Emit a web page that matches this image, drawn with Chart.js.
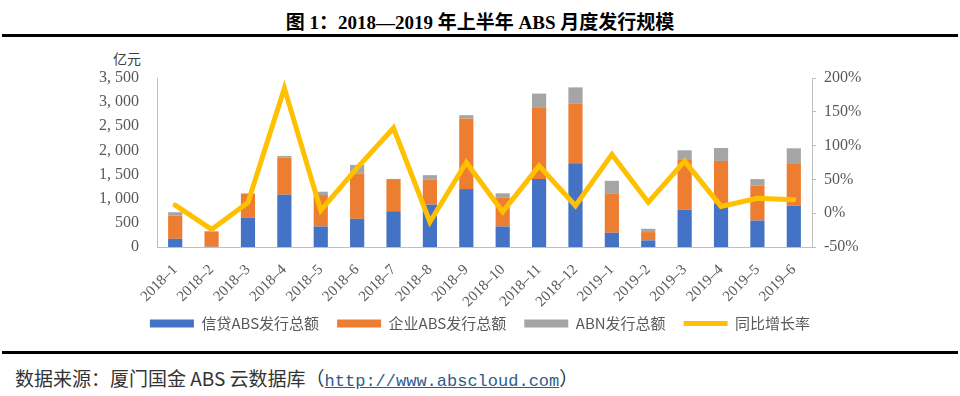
<!DOCTYPE html>
<html>
<head>
<meta charset="utf-8">
<script src="https://cdn.jsdelivr.net/npm/chart.js@4"></script>
<style>
  body { margin: 0; width: 960px; height: 396px; background: #fff; position: relative; overflow: hidden; }
  #title { position: absolute; top: 7px; left: 0; width: 960px; text-align: center;
           font: bold 19px "Liberation Serif", "Noto Sans CJK SC"; color: #000; }
  .rule { position: absolute; left: 2px; width: 956px; height: 3px; background: #000; }
  #unit { position: absolute; left: 113px; top: 48px; font: 14px "Noto Sans CJK SC"; color: #404040; }
  #wrap { position: absolute; left: 0; top: 40px; width: 960px; height: 310px; }
  #source { position: absolute; left: 15px; top: 364px; font: 19px "Noto Sans CJK SC"; color: #333; white-space: pre; }
  #source a { font: 17px "Liberation Mono"; color: #2E5C8A; text-decoration: underline; }
</style>
</head>
<body>
<div id="title">图 1：2018—2019 年上半年 ABS 月度发行规模</div>
<div class="rule" style="top:34px"></div>
<div id="unit">亿元</div>
<div id="wrap"><canvas id="chart"></canvas></div>
<div class="rule" style="top:351px"></div>
<div id="source">数据来源：厦门国金 ABS 云数据库（<a>http://www.abscloud.com</a>）</div>
<script>
const months = ["2018-1", "2018-2", "2018-3", "2018-4", "2018-5", "2018-6", "2018-7", "2018-8", "2018-9",
  "2018-10", "2018-11", "2018-12", "2019-1", "2019-2", "2019-3", "2019-4", "2019-5", "2019-6"];
// 亿元
const creditABS = [170, 5, 603, 1083, 425, 583, 741, 877, 1200, 425, 1406, 1736, 295, 137, 774, 890, 548, 857];
const corpABS = [480, 310, 494, 770, 652, 940, 665, 515, 1462, 604, 1489, 1229, 817, 172, 1030, 893, 721, 879];
const abn = [70, 15, 13, 33, 68, 177, 4, 96, 68, 83, 282, 341, 259, 68, 199, 268, 137, 308];
// 同比增长率
const yoy = [0.12, -0.24, 0.16, 1.85, 0.04, 0.67, 1.26, -0.13, 0.75, 0.02, 0.70, 0.11, 0.87, 0.16, 0.77, 0.10, 0.22, 0.20];

const seriesNames = ["信贷ABS发行总额", "企业ABS发行总额", "ABN发行总额", "同比增长率"];

const tickFont = { family: "Liberation Serif", size: 16 };
const axisColor = "#BFBFBF";
const textColor = "#595959";

// pull the legend up closer to the rotated month labels
const legendShift = {
  id: "legendShift",
  afterLayout(chart) {
    chart.legend.top -= 9;
    chart.legend.bottom -= 9;
  }
};

new Chart(document.getElementById("chart"), {
  data: {
    labels: months,
    datasets: [
      { type: "bar", label: seriesNames[0], data: creditABS, backgroundColor: "#4472C4", yAxisID: "y", order: 1 },
      { type: "bar", label: seriesNames[1], data: corpABS, backgroundColor: "#ED7D31", yAxisID: "y", order: 1 },
      { type: "bar", label: seriesNames[2], data: abn, backgroundColor: "#A5A5A5", yAxisID: "y", order: 1 },
      { type: "line", label: seriesNames[3], data: yoy, borderColor: "#FFC000", backgroundColor: "#FFC000",
        borderWidth: 5, pointRadius: 0, tension: 0, borderCapStyle: "round", yAxisID: "y1", order: 0 }
    ]
  },
  plugins: [legendShift],
  options: {
    responsive: true,
    maintainAspectRatio: false,
    animation: false,
    layout: { padding: { top: 38, left: 0, right: 0, bottom: 0 } },
    datasets: { bar: { categoryPercentage: 1, barPercentage: 0.39 } },
    scales: {
      x: {
        stacked: true,
        grid: { display: false },
        border: { display: true, color: axisColor },
        ticks: { font: { family: "Liberation Serif", size: 15 }, color: textColor, minRotation: 45, maxRotation: 45, padding: 6,
                 callback: function (v) { return this.getLabelForValue(v).replace("-", "–"); } },
        afterFit: s => { s.height = 60; }
      },
      y: {
        stacked: true,
        position: "left",
        min: 0, max: 3500,
        grid: { display: false },
        border: { display: true, color: axisColor },
        ticks: { stepSize: 500, font: tickFont, color: textColor, padding: 10,
                 callback: v => v.toLocaleString("en-US").replace(",", ", ") },
        afterFit: s => { s.width = 157; }
      },
      y1: {
        position: "right",
        min: -0.5, max: 2,
        grid: { drawOnChartArea: false, drawTicks: true, tickLength: 4, color: axisColor },
        border: { display: true, color: axisColor },
        ticks: { stepSize: 0.5, font: tickFont, color: textColor, padding: 8,
                 callback: v => Math.round(v * 100) + "%" },
        afterFit: s => { s.width = 148; }
      }
    },
    plugins: {
      tooltip: { enabled: false },
      legend: {
        position: "bottom",
        labels: {
          usePointStyle: true,
          pointStyleWidth: 44,
          boxHeight: 8,
          padding: 18,
          color: textColor,
          font: { family: "Noto Sans CJK SC", size: 15 },
          sort: (a, b) => a.datasetIndex - b.datasetIndex,
          generateLabels: chart => {
            const items = Chart.defaults.plugins.legend.labels.generateLabels(chart);
            items.forEach(it => {
              if (it.datasetIndex === 3) {
                it.pointStyle = "line";
                it.lineWidth = 5;
                it.strokeStyle = "#FFC000";
              } else {
                it.pointStyle = "rect";
                it.lineWidth = 0;
              }
            });
            return items;
          }
        }
      }
    }
  }
});
</script>
</body>
</html>
